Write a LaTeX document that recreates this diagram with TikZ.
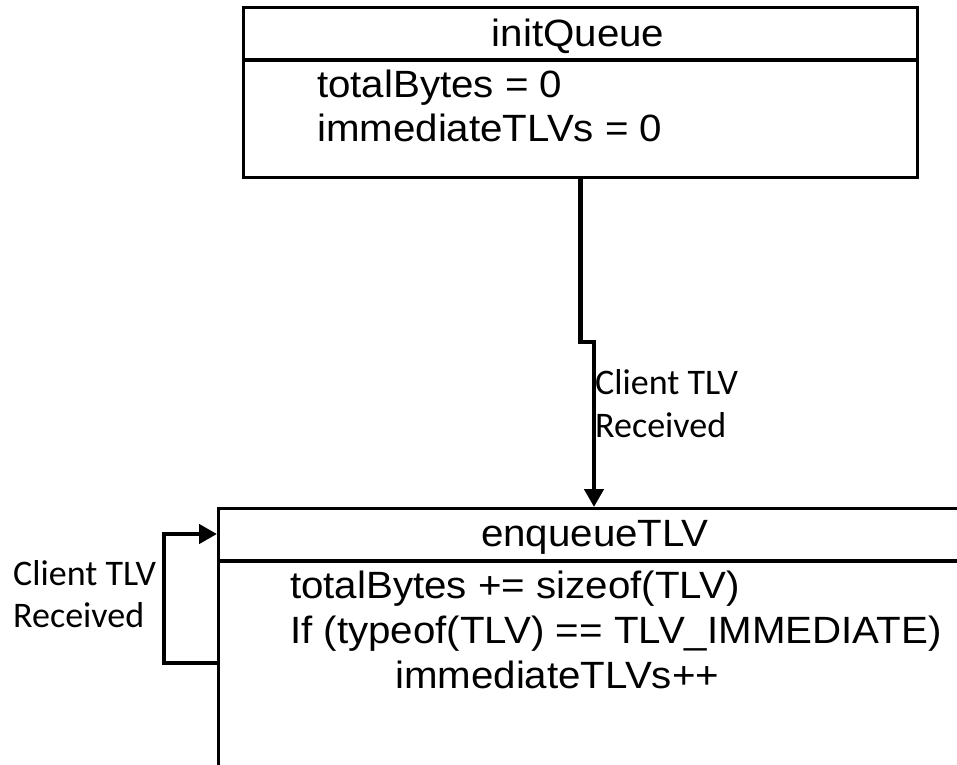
\documentclass[tikz,border=0pt]{standalone}
\usepackage{fontspec}
\usetikzlibrary{arrows.meta}
\newfontfamily\boxfont[FakeStretch=1.06]{Liberation Sans}
\newfontfamily\lblfont{Carlito}
\begin{document}
\begin{tikzpicture}[x=1pt,y=-1pt,
  statebox/.style={draw=black,line width=2.5pt,fill=white,inner sep=0pt,anchor=north west},
  sepline/.style={line width=4pt},
  conn/.style={line width=4.5pt,line join=miter},
  arrowconn/.style={conn,-{Triangle[width=19pt,length=18pt]}},
  boxtxt/.style={inner sep=0pt,font=\boxfont\fontsize{38}{45}\selectfont},
  lbltxt/.style={inner sep=0pt,anchor=base west,font=\lblfont\fontsize{36}{42}\selectfont}]
\useasboundingbox (0,0) rectangle (957,764);
\fill[white] (0,0) rectangle (957,764);
\clip (0,0) rectangle (957,764);

% initQueue state
\node[statebox,minimum width=674pt,minimum height=170pt] (initq) at (242,6) {};
\draw[sepline] ([yshift=-54pt]initq.north west) -- ([yshift=-54pt]initq.north east);
\node[boxtxt,anchor=base] (initqname) at (578,46) {initQueue};
\node[boxtxt,anchor=base west] (initqa) at (317,97) {totalBytes = 0};
\node[boxtxt,anchor=base west] (initqb) at (317,141) {immediateTLVs = 0};

% enqueueTLV state (runs past the right and bottom edges)
\node[statebox,minimum width=760pt,minimum height=400pt] (enq) at (217,507) {};
\draw[sepline] ([yshift=-54pt]enq.north west) -- ([yshift=-54pt]enq.north east);
\node[boxtxt,anchor=base] (enqname) at (595,546) {enqueueTLV};
\node[boxtxt,anchor=base west] (enqa) at (290,598) {totalBytes += sizeof(TLV)};
\node[boxtxt,anchor=base west] (enqb) at (290,643) {If (typeof(TLV) == TLV\_IMMEDIATE)};
\node[boxtxt,anchor=base west] (enqc) at (395,688) {immediateTLVs++};

% transition initQueue -> enqueueTLV
\coordinate (jog) at (594,342);
\draw[arrowconn] (initq.south) |- (jog) -- (jog |- enq.north);
\node[lbltxt] (lblm1) at (595,394) {Client TLV};
\node[lbltxt] (lblm2) at (595,437) {Received};

% self transition on enqueueTLV
\coordinate (lt) at (164,534);
\coordinate (lb) at (164,663);
\draw[arrowconn] (lb -| enq.west) -- (lb) -- (lt) -- (lt -| enq.west);
\node[lbltxt] (lbll1) at (13,585) {Client TLV};
\node[lbltxt] (lbll2) at (13,627) {Received};
\end{tikzpicture}
\end{document}
